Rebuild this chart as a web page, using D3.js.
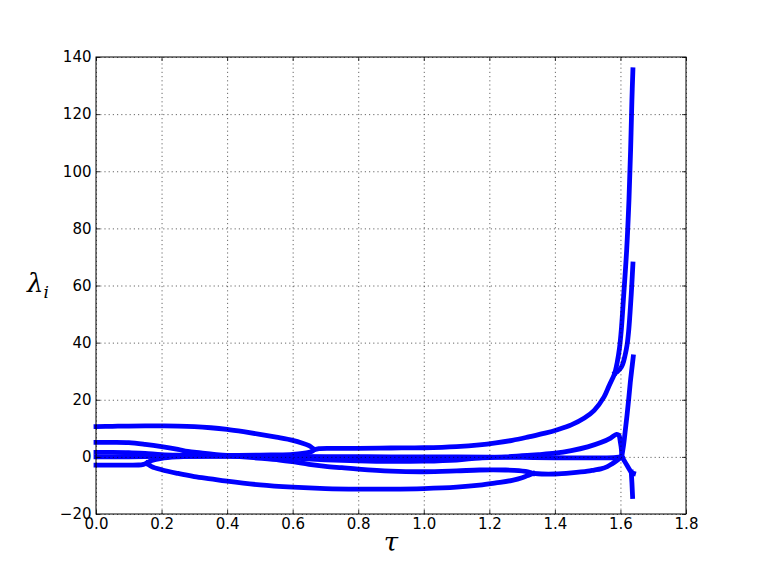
<!DOCTYPE html>
<html>
<head>
<meta charset="utf-8">
<script src="https://cdn.jsdelivr.net/npm/d3@7"></script>
<style>
  html, body { margin: 0; padding: 0; background: #fff; }
  svg { display: block; }
  text { font-family: "DejaVu Sans", sans-serif; }
</style>
</head>
<body>
<svg id="chart" width="763" height="572"></svg>
<script>
// ---------- data (tau, lambda) ----------
const xTicks = [0, 0.2, 0.4, 0.6, 0.8, 1.0, 1.2, 1.4, 1.6, 1.8];
const yTicks = [-20, 0, 20, 40, 60, 80, 100, 120, 140];

// top eigenvalue, descends into the loop tip near tau=0.665
const trackTop = [[0,10.6],[0.05,10.7],[0.1,10.8],[0.15,10.85],[0.2,10.85],[0.25,10.8],[0.3,10.6],[0.35,10.2],[0.4,9.6],[0.45,8.8],[0.5,7.9],[0.55,6.9],[0.6,5.8],[0.63,4.8],[0.65,3.9],[0.66,3.1],[0.665,2.5]];
// lower arm of the first loop
const trackLowerArm = [[0,1.6],[0.05,1.6],[0.1,1.5],[0.15,1.2],[0.2,0.8],[0.25,0.6],[0.3,0.5],[0.4,0.5],[0.5,0.6],[0.55,0.7],[0.6,0.9],[0.63,1.2],[0.65,1.6],[0.66,2.0],[0.665,2.5]];
// complex pair after the first loop, rising to the split near 1.583
const trackPairUp = [[0.665,2.5],[0.68,2.9],[0.72,3.0],[0.8,3.0],[0.9,3.1],[1.0,3.2],[1.1,3.6],[1.17,4.2],[1.22,4.9],[1.27,5.8],[1.32,7.0],[1.37,8.3],[1.41,9.6],[1.45,11.2],[1.49,13.6],[1.52,16.3],[1.55,21.0],[1.565,24.8],[1.578,28.0],[1.583,29.3]];
const trackUpper = [[1.583,29.3],[1.59,33],[1.597,38],[1.603,45],[1.609,55],[1.619,72.5],[1.626,90],[1.631,107.5],[1.635,125],[1.638,135.5]];
const trackSecond = [[1.583,29.3],[1.59,29.8],[1.599,30.8],[1.607,32.5],[1.614,35.5],[1.62,39],[1.625,44],[1.629,50],[1.633,57],[1.638,67.5]];
// eigenvalue staying near zero
const trackZero = [[0,0],[0.1,0.05],[0.2,0.15],[0.3,0.2],[0.4,0.2],[0.5,0.2],[0.6,0.15],[0.7,0.1],[0.8,0.05],[0.9,0],[1.0,0],[1.1,-0.05],[1.2,-0.1],[1.3,-0.2],[1.4,-0.3],[1.5,-0.35],[1.55,-0.35],[1.58,-0.3],[1.595,-0.1],[1.604,0.1]];
// complex pair at start, splitting at tau=0.155
const trackPairLow = [[0,-2.9],[0.1,-2.9],[0.13,-2.85],[0.145,-2.6],[0.155,-2.2]];
// upper split branch, later the hump peaking near 1.59
const trackHump = [[0.155,-2.2],[0.17,-1.3],[0.2,-0.5],[0.25,0],[0.3,0.2],[0.35,0.3],[0.4,0.3],[0.5,0.1],[0.6,-0.4],[0.7,-1.0],[0.8,-1.4],[0.9,-1.6],[1.0,-1.5],[1.1,-1.1],[1.17,-0.4],[1.25,0],[1.3,0.4],[1.35,0.8],[1.4,1.3],[1.45,2.2],[1.5,3.5],[1.54,5.0],[1.57,6.6],[1.588,7.9],[1.595,7.6],[1.6,5.0],[1.603,2.5],[1.604,0.1]];
// lower split branch
const trackBottom = [[0.155,-2.2],[0.17,-3.4],[0.2,-4.5],[0.25,-5.8],[0.3,-6.9],[0.35,-7.7],[0.4,-8.5],[0.5,-9.8],[0.6,-10.6],[0.7,-11.1],[0.8,-11.3],[0.9,-11.3],[1.0,-11.1],[1.1,-10.6],[1.17,-9.9],[1.22,-9.1],[1.27,-8.2],[1.3,-7.3],[1.32,-6.4],[1.333,-5.8]];
// second eigenvalue from the top, descending
const trackDescend = [[0,5.1],[0.05,5.1],[0.1,5.0],[0.15,4.4],[0.2,3.6],[0.25,2.6],[0.28,1.9],[0.32,1.4],[0.36,0.9],[0.42,0.3],[0.48,-0.3],[0.56,-1.1],[0.6,-1.7],[0.65,-2.6],[0.7,-3.3],[0.75,-3.8],[0.8,-4.3],[0.9,-5.0],[1.0,-5.2],[1.1,-4.9],[1.17,-4.6],[1.25,-4.6],[1.29,-4.8],[1.31,-5.1],[1.325,-5.5],[1.333,-5.8]];
// pair after the second loop, rising to the crossing at 1.604
const trackPairMid = [[1.333,-5.8],[1.36,-6.0],[1.4,-6.0],[1.45,-5.6],[1.5,-5.0],[1.52,-4.6],[1.54,-4.2],[1.56,-3.4],[1.575,-2.4],[1.59,-1.2],[1.6,-0.3],[1.604,0.1]];
const trackRise = [[1.604,0.1],[1.61,4.5],[1.615,9.5],[1.62,14.5],[1.625,20],[1.63,26],[1.635,31],[1.639,35]];
const trackFall = [[1.604,0.1],[1.612,-1.4],[1.619,-2.8],[1.627,-4.3],[1.634,-5.6],[1.64,-5.8]];
const trackDrop = [[1.633,-5.3],[1.635,-9],[1.637,-13.9]];

const smoothTracks = [trackTop, trackLowerArm, trackPairUp, trackUpper, trackSecond, trackZero,
  trackPairLow, trackHump, trackBottom, trackDescend, trackPairMid, trackRise];
const straightTracks = [trackFall, trackDrop];

// ---------- layout ----------
const svg = d3.select("#chart");
const L = 96, R = 686, T = 57, B = 514;
const x = d3.scaleLinear().domain([0, 1.8]).range([L, R]);
const y = d3.scaleLinear().domain([-20, 140]).range([B, T]);

// curves
const lineSmooth = d3.line().x(d => x(d[0])).y(d => y(d[1])).curve(d3.curveCatmullRom.alpha(0.5));
const lineStraight = d3.line().x(d => x(d[0])).y(d => y(d[1]));
const gLines = svg.append("g");
gLines.selectAll("path.s").data(smoothTracks).join("path")
  .attr("d", lineSmooth).attr("fill", "none").attr("stroke", "#0000ff")
  .attr("stroke-width", 4.8).attr("stroke-linecap", "square").attr("stroke-linejoin", "round");
gLines.selectAll("path.t").data(straightTracks).join("path")
  .attr("d", lineStraight).attr("fill", "none").attr("stroke", "#0000ff")
  .attr("stroke-width", 4.8).attr("stroke-linecap", "square").attr("stroke-linejoin", "miter");

// grid (drawn above the lines, as in the reference)
const gGrid = svg.append("g");
gGrid.append("g").attr("transform", `translate(0,${B})`)
  .call(d3.axisBottom(x).tickValues(xTicks).tickSize(-(B - T)).tickFormat(""))
  .call(g => g.select(".domain").remove());
gGrid.append("g").attr("transform", `translate(${L},0)`)
  .call(d3.axisLeft(y).tickValues(yTicks).tickSize(-(R - L)).tickFormat(""))
  .call(g => g.select(".domain").remove());
gGrid.selectAll("line").attr("stroke", "#000").attr("stroke-width", 0.6)
  .attr("stroke-dasharray", "1.2,3");

// frame
svg.append("rect").attr("x", L).attr("y", T).attr("width", R - L).attr("height", B - T)
  .attr("fill", "none").attr("stroke", "#000").attr("stroke-width", 1);

// axes with inward ticks
const fmtX = d3.format(".1f");
const fmtY = d3.format("d");
const ax = svg.append("g").attr("transform", `translate(0,${B})`)
  .call(d3.axisBottom(x).tickValues(xTicks).tickSizeInner(-4).tickSizeOuter(0).tickPadding(4).tickFormat(fmtX));
const ay = svg.append("g").attr("transform", `translate(${L},0)`)
  .call(d3.axisLeft(y).tickValues(yTicks).tickSizeInner(-4).tickSizeOuter(0).tickPadding(4.5).tickFormat(fmtY));
const axT = svg.append("g").attr("transform", `translate(0,${T})`)
  .call(d3.axisTop(x).tickValues(xTicks).tickSizeInner(-4).tickSizeOuter(0).tickFormat(""));
const ayR = svg.append("g").attr("transform", `translate(${R},0)`)
  .call(d3.axisRight(y).tickValues(yTicks).tickSizeInner(-4).tickSizeOuter(0).tickFormat(""));
[ax, ay, axT, ayR].forEach(g => {
  g.select(".domain").remove();
  g.selectAll("line").attr("stroke", "#000").attr("stroke-width", 0.8);
  g.selectAll("text").attr("fill", "#000").style("font-size", "15px")
    .style("font-family", "'DejaVu Sans', sans-serif");
});

// axis labels
svg.append("text").attr("x", (L + R) / 2).attr("y", 551).attr("text-anchor", "middle")
  .style("font-family", "'DejaVu Serif', serif").style("font-style", "italic").style("font-size", "26px")
  .text("τ");
const yl = svg.append("text").attr("x", 27).attr("y", 292)
  .style("font-family", "'DejaVu Serif', serif").style("font-style", "italic").style("font-size", "26px");
yl.append("tspan").text("λ");
yl.append("tspan").attr("dy", 6).style("font-size", "17px").text("i");
</script>
</body>
</html>
